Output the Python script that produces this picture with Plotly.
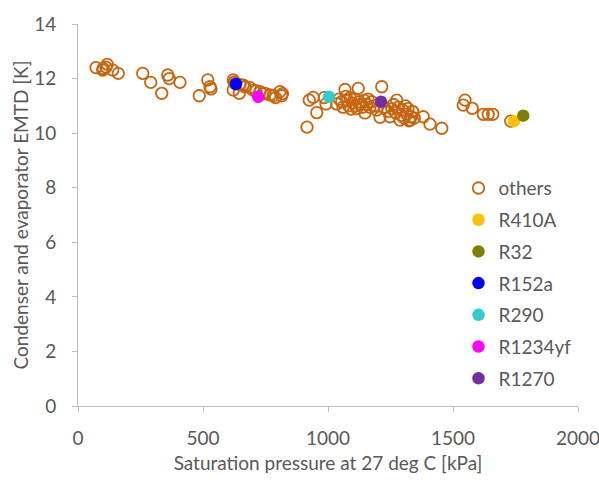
import plotly.graph_objects as go

# Saturation pressure at 27 deg C [kPa] and EMTD [K] for the bulk of candidate refrigerants
others_p = [72, 99, 101, 117, 112, 139, 161, 259, 291, 335, 359, 365, 408, 485, 519, 528, 532,
            621, 625, 628, 621, 645, 648, 661, 668, 688, 701, 712, 728, 740, 748, 768, 781, 790,
            808, 815, 818,
            916, 925, 941, 955, 992, 985,
            1035, 1045, 1055, 1060, 1068, 1072, 1078, 1082, 1088, 1092, 1098, 1105, 1110, 1115,
            1121, 1125, 1130, 1138, 1145, 1148, 1155, 1160, 1168, 1175, 1185, 1195, 1208, 1215, 1225,
            1240, 1248, 1255, 1262, 1270, 1275, 1282, 1288, 1293, 1298, 1305, 1310, 1315, 1320,
            1325, 1328, 1332, 1338, 1345, 1381, 1408, 1455,
            1541, 1548, 1577, 1621, 1641, 1659, 1731]
others_emtd = [12.40, 12.31, 12.37, 12.52, 12.42, 12.31, 12.19, 12.19, 11.86, 11.46, 12.13, 12.00,
               11.86, 11.37, 11.95, 11.70, 11.62,
               11.95, 11.88, 11.82, 11.58, 11.46, 11.78, 11.76, 11.70, 11.67, 11.58, 11.55, 11.52,
               11.45, 11.46, 11.40, 11.37, 11.30, 11.52, 11.37, 11.45,
               10.22, 11.21, 11.31, 10.75, 11.07, 11.30,
               11.07, 11.25, 11.15, 10.95, 11.60, 11.35, 11.20, 11.00, 11.30, 10.88, 11.10, 11.25,
               11.00, 10.90, 11.64, 11.15, 11.05, 10.95, 11.20, 10.74, 11.05, 11.25, 10.95, 11.15,
               11.00, 10.85, 10.58, 11.70, 10.95,
               10.80, 10.60, 10.90, 11.05, 10.75, 11.21, 10.95, 10.48, 10.65, 10.85, 10.55, 11.00,
               10.70, 10.90, 10.45, 10.48, 10.60, 10.80, 10.55, 10.60, 10.33, 10.18,
               11.03, 11.21, 10.91, 10.69, 10.69, 10.69, 10.44]

# Highlighted refrigerants
named = ["R410A", "R32", "R152a", "R290", "R1234yf", "R1270"]
named_p = [1744, 1781, 632, 1004, 721, 1212]
named_emtd = [10.44, 10.64, 11.80, 11.33, 11.33, 11.15]
named_colors = ["#FFC000", "#808000", "#0000FF", "#33CCCC", "#FF00FF", "#7030A0"]

x_ticks = [0, 500, 1000, 1500, 2000]
y_ticks = [0, 2, 4, 6, 8, 10, 12, 14]

font_family = "Lato, 'Open Sans', sans-serif"
text_grey = "#595959"
axis_grey = "#BFBFBF"

fig = go.Figure()
fig.add_trace(go.Scatter(
    x=others_p, y=others_emtd, mode="markers", name="others", legendgroup="others",
    marker=dict(symbol="circle-open", size=11.5, color="#C8650F", line=dict(width=1.8, color="#C8650F")),
))
for name, p, e, c in zip(named, named_p, named_emtd, named_colors):
    fig.add_trace(go.Scatter(
        x=[p], y=[e], mode="markers", name=name, legendgroup=name,
        marker=dict(symbol="circle", size=12.5, color=c),
    ))

fig.update_layout(
    width=599, height=484,
    margin=dict(l=78, r=21, t=24, b=78, autoexpand=False),
    paper_bgcolor="white", plot_bgcolor="white",
    font=dict(family=font_family, color=text_grey, size=19),
    showlegend=True,
    legend=dict(
        x=0.761, y=0.62, xanchor="left", yanchor="top",
        bgcolor="rgba(0,0,0,0)", tracegroupgap=4,
        font=dict(size=19, color=text_grey),
    ),
    xaxis=dict(
        range=[0, 2000], tickvals=x_ticks, ticktext=[str(v) for v in x_ticks],
        showgrid=False, zeroline=False, showline=True, linecolor=axis_grey, linewidth=1,
        ticks="outside", ticklen=5, tickcolor=axis_grey, automargin=False,
        ticklabelstandoff=10, ticklabeloverflow="allow",
        tickfont=dict(size=19, color=text_grey),
        title=dict(text="Saturation pressure at 27 deg C [kPa]", font=dict(size=19, color=text_grey), standoff=8),
    ),
    yaxis=dict(
        range=[0, 14], tickvals=y_ticks, ticktext=[str(v) for v in y_ticks],
        showgrid=False, zeroline=False, showline=True, linecolor=axis_grey, linewidth=1,
        ticks="outside", ticklen=5, tickcolor=axis_grey, automargin=False,
        ticklabelstandoff=12,
        tickfont=dict(size=19, color=text_grey),
        title=dict(text="Condenser and evaporator EMTD [K]", font=dict(size=19, color=text_grey), standoff=0),
    ),
)

fig.write_html("out.html")
